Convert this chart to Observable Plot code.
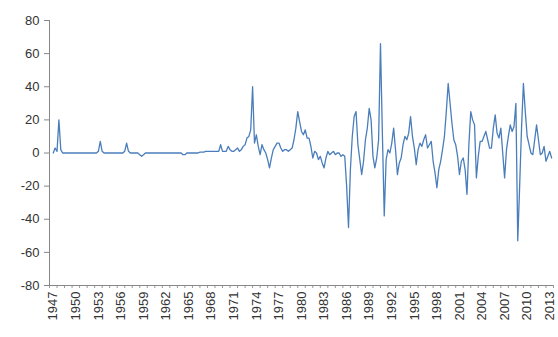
<!DOCTYPE html>
<html>
<head>
<meta charset="utf-8">
<script src="https://cdn.jsdelivr.net/npm/d3@7"></script>
<script src="https://cdn.jsdelivr.net/npm/@observablehq/plot@0.6"></script>
<style>
  html, body { margin: 0; padding: 0; background: #fff; }
  #chart svg { display: block; }
</style>
</head>
<body>
<div id="chart"></div>
<script>
// Quarterly series, starting 1947 Q1 (four values per year)
const startYear = 1947;
const values1947to1959 = [
  0, 3, 1, 20,   2, 0, 0, 0,   0, 0, 0, 0,   0, 0, 0, 0,
  0, 0, 0, 0,    0, 0, 0, 0,   1, 7, 1, 0,   0, 0, 0, 0,
  0, 0, 0, 0,    0, 0, 1, 6,   1, 0, 0, 0,   0, 0, -1, -2,
  -1, 0, 0, 0
];
const values1960to1979 = [
  0, 0, 0, 0,    0, 0, 0, 0,   0, 0, 0, 0,   0, 0, 0, 0,
  0, -1, -1, 0,  0, 0, 0, 0,   0, 0, 0.5, 0.5, 0.5, 1, 1, 1,
  1, 1, 1, 1,    1, 5, 1, 1,   1, 4, 2, 1,   1, 2, 3, 1,
  2, 4, 5, 9,    10, 14, 40, 6, 11, 4, -1, 5, 2, 0, -4, -9,
  -3, 2, 4, 6,   6, 3, 1, 2,   2, 1, 2, 3,   8, 15, 25, 19
];
const values1980to1999 = [
  13, 11, 14, 9,  9, 4, -3, 1,  0, -4, -2, -6, -9, -3, 1, -1,
  0, 1, -1, 0,    0, -2, -1, -2, -20, -45, -10, 10, 22, 25, 5, -4,
  -13, -5, 8, 15, 27, 20, -2, -9, -3, 8, 66, 12, -38, -4, 2, 0,
  6, 15, 2, -13,  -6, -3, 5, 10, 8, 12, 22, 10, 3, -7, 2, 6,
  4, 8, 11, 3,    5, 7, -5, -12, -21, -10, -5, 2, 10, 25, 42, 30
];
const values2000to2013 = [
  18, 8, 5, -2,   -13, -5, -3, -10, -25, 5, 25, 20, 17, -15, -2, 7,
  7, 10, 13, 8,   3, 3, 15, 23, 12, 9, 15, 0, -15, 2, 10, 17,
  13, 16, 30, -53, -20, 15, 42, 25, 10, 5, 0, -1, 8, 17, 8, -1,
  0, 4, -5, -2,   1, -3
];
const yTicks = [-80, -60, -40, -20, 0, 20, 40, 60, 80];
const xTickLabels = [1947, 1950, 1953, 1956, 1959, 1962, 1965, 1968, 1971, 1974,
  1977, 1980, 1983, 1986, 1989, 1992, 1995, 1998, 2001, 2004, 2007, 2010, 2013];

const values = [...values1947to1959, ...values1960to1979, ...values1980to1999, ...values2000to2013];
const data = values.map((v, i) => ({t: startYear + i / 4, v}));
const minorTicks = d3.range(1946.5, 2014, 1);

const chart = Plot.plot({
  width: 558,
  height: 337,
  marginLeft: 49,
  marginRight: 5,
  marginTop: 20,
  marginBottom: 52,
  style: {fontFamily: "'Liberation Sans', Arial, sans-serif", fontSize: "13px", color: "#333", background: "#fff"},
  x: {domain: [1946.5, 2013.5], label: null},
  y: {domain: [-80, 80], label: null},
  marks: [
    Plot.axisY({ticks: yTicks, tickSize: 5, tickPadding: 5, tickFormat: d => String(d), stroke: "#888", fill: "#333", fontSize: 13, label: null}),
    Plot.axisX({ticks: minorTicks, tickSize: 3, tickFormat: () => "", stroke: "#999", label: null}),
    Plot.axisX({ticks: xTickLabels, tickSize: 0, tickPadding: 6, tickRotate: -90, tickFormat: d => String(d), fill: "#333", fontSize: 13, label: null}),
    Plot.ruleX([1946.5], {y1: -80, y2: 80, stroke: "#888"}),
    Plot.ruleY([-80], {stroke: "#888"}),
    Plot.lineY(data, {x: "t", y: "v", stroke: "#4a7ebb", strokeWidth: 1.3})
  ]
});
document.getElementById("chart").append(chart);
</script>
</body>
</html>
